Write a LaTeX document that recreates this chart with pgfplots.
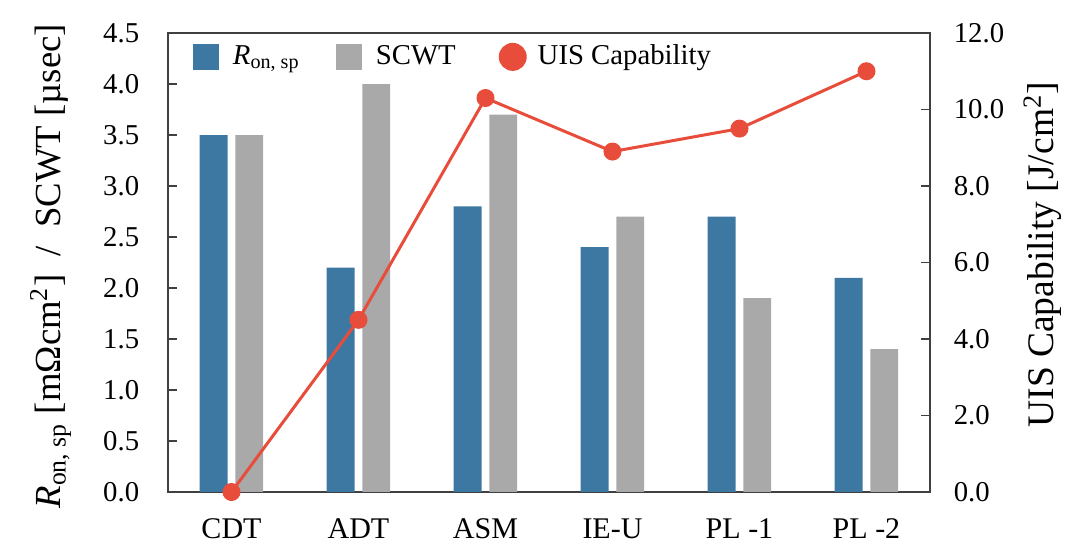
\documentclass[border=0pt]{standalone}
\usepackage{pgfplots}
\pgfplotsset{compat=1.18}
\usepackage{fontspec}
\setmainfont{Liberation Serif}
\definecolor{rblue}{HTML}{3D78A2}
\definecolor{rgray}{HTML}{A9A9A9}
\definecolor{rred}{HTML}{E84C3A}
\definecolor{axcol}{HTML}{404040}
\begin{document}
\begin{tikzpicture}
\useasboundingbox (-67.2pt,-25.2pt) rectangle (364.8pt,196.8pt);
\pgfplotsset{
  common/.style={
    scale only axis, width=304.8pt, height=183.6pt,
    at={(0,0)}, anchor=south west,
    xmin=-0.5, xmax=5.5,
    axis line style={axcol, line width=0.6pt},
    every tick/.style={axcol, line width=0.6pt},
    major tick length=3.6pt,
    tick align=inside,
    /pgf/number format/assume math mode=true,
    /pgf/number format/fixed,
    /pgf/number format/fixed zerofill,
    /pgf/number format/precision=1,
    ticklabel style={font=\fontsize{11.5}{13}\selectfont},
  }
}
\begin{axis}[common,
  ymin=0, ymax=4.5,
  ytick={0,0.5,...,4.5},
  ytick pos=left,
  yticklabel style={xshift=-8pt},
  xtick={0,1,2,3,4,5},
  xticklabels={CDT,ADT,ASM,IE-U,PL -1,PL -2},
  xtick pos=bottom,
  xtick style={draw=none},
  xticklabel style={yshift=-3.5pt, font=\fontsize{12}{14}\selectfont},
  ylabel={\textit{R}\textsubscript{on, sp} [mΩcm\textsuperscript{2}]\ \ /\ \ SCWT [µsec]},
  ylabel style={at={(axis description cs:-0.154,0.492)}, anchor=center, font=\fontsize{14.7}{17}\selectfont},
  ybar, bar width=0.22,
  legend style={at={(axis description cs:0.0328,0.948)}, anchor=west, draw=none, fill=none,
    font=\fontsize{11.5}{13}\selectfont, inner sep=0pt, outer sep=0pt,
    /tikz/every odd column/.append style={column sep=3.6pt},
    /tikz/every even column/.append style={column sep=12.4pt}},
  legend columns=-1,
  legend cell align=left,
]
\addplot[fill=rblue, draw=none, bar shift=-0.14,
  legend image code/.code={\fill[rblue] (0pt,-5.2pt) rectangle (10.4pt,5.2pt);}]
  coordinates {(0,3.5) (1,2.2) (2,2.8) (3,2.4) (4,2.7) (5,2.1)};
\addlegendentry{\textit{R}\textsubscript{on, sp}}
\addplot[fill=rgray, draw=none, bar shift=0.14,
  legend image code/.code={\fill[rgray] (0pt,-5.2pt) rectangle (10.4pt,5.2pt);}]
  coordinates {(0,3.5) (1,4.0) (2,3.7) (3,2.7) (4,1.9) (5,1.4)};
\addlegendentry{SCWT}
\addlegendimage{legend image code/.code={\path[draw=none, fill=none] (0pt,-5.2pt) rectangle (12.8pt,5.2pt); \fill[rred, draw=none, overlay] (8.4pt,0pt) circle (5.6pt);}}
\addlegendentry{UIS Capability}
\end{axis}
\begin{axis}[common,
  ymin=0, ymax=12,
  ytick={0,2,...,12},
  axis x line=none,
  axis y line*=right,
  yticklabel style={xshift=6pt},
  ylabel={UIS Capability [J/cm\textsuperscript{2}]},
  ylabel style={at={(axis description cs:1.148,0.517)}, anchor=center, rotate=0, font=\fontsize{15}{17}\selectfont},
  clip=false,
]
\addplot[rred, line width=1.2pt, mark=*, mark size=3pt, mark options={fill=rred, draw=rred}]
  coordinates {(0,0) (1,4.5) (2,10.3) (3,8.9) (4,9.5) (5,11.0)};
\end{axis}
\end{tikzpicture}
\end{document}
